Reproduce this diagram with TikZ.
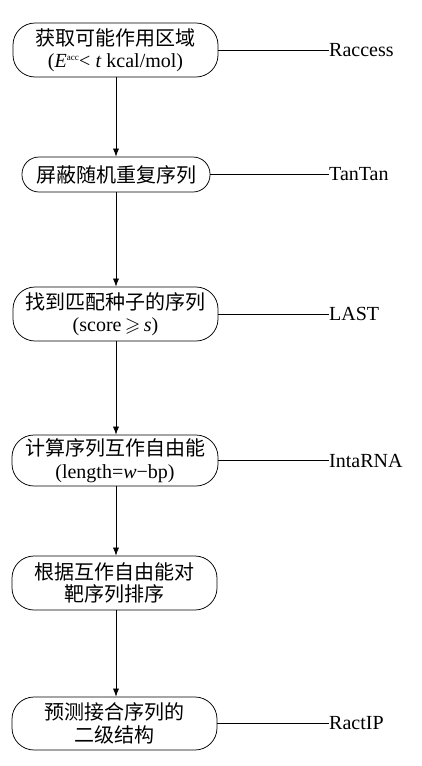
\documentclass[tikz,border=0pt]{standalone}
\usepackage{fontspec,amssymb}
\setmainfont{Liberation Serif}
\newfontfamily\cn{Noto Sans CJK SC}
\usetikzlibrary{arrows.meta,calc,positioning}

\begin{document}
\begin{tikzpicture}[x=1pt,y=-1pt,font=\fontsize{20}{22.5}\selectfont,
 stepbox/.style={draw,rounded corners=22pt,minimum width=205pt,align=center,inner sep=2pt,line width=.75pt},
 tool/.style={anchor=west,inner sep=0pt},
 flow/.style={line width=.7pt,-{Latex[length=8pt,width=6pt]}}]
\useasboundingbox (0,0) rectangle (421,766);
\node[stepbox,minimum height=54pt] (region) at (115.5,50) {{\cn 获取可能作用区域}\\(\textit{E}\textsuperscript{\small acc}< \textit{t} kcal/mol)};
\node[stepbox,minimum height=35pt,minimum width=188pt,rounded corners=17pt] (mask) at (116,174.5) {\cn 屏蔽随机重复序列};
\node[stepbox,minimum height=54pt] (seed) at (115.5,314) {{\cn 找到匹配种子的序列}\\(score\,$\geqslant$\,\textit{s})};
\node[stepbox,minimum height=51pt,minimum width=206pt] (energy) at (115,460.5) {{\cn 计算序列互作自由能}\\(length=\textit{w}−bp)};
\node[stepbox,minimum height=54pt] (rank) at (114.5,583) {\cn 根据互作自由能对\\\cn 靶序列排序};
\node[stepbox,minimum height=53pt] (predict) at (114.5,723.5) {\cn 预测接合序列的\\\cn 二级结构};
% tools on the right
\foreach \n/\t in {region/Raccess,mask/TanTan,seed/LAST,energy/IntaRNA,predict/RactIP}{
 \node[tool] (\n-tool) at (329,0 |- \n.east) {\t};
 \draw[line width=.7pt] (\n.east) -- (\n-tool.west);
}
\foreach \a/\b in {region/mask,mask/seed,seed/energy,energy/rank,rank/predict}
 \draw[flow] (\a.south -| 116,0) -- (\b.north -| 116,0);
\end{tikzpicture}
\end{document}
